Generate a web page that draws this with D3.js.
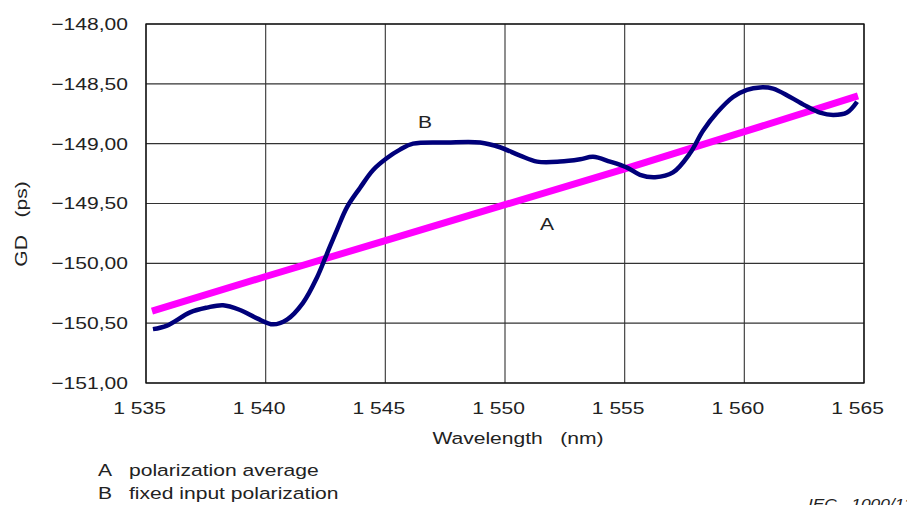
<!DOCTYPE html>
<html>
<head>
<meta charset="utf-8">
<script src="https://d3js.org/d3.v7.min.js"></script>
<style>
  body { margin: 0; background: #fff; }
  text { font-family: "Liberation Sans", Arial, sans-serif; fill: #222; }
</style>
</head>
<body>
<div id="chart"></div>
<script>
// tick values and their printed labels
var xTicks = [1535, 1540, 1545, 1550, 1555, 1560, 1565];
var xTickLabels = ["1 535", "1 540", "1 545", "1 550", "1 555", "1 560", "1 565"];
var yTicks = [-148, -148.5, -149, -149.5, -150, -150.5, -151];
var yTickLabels = ["\u2212148,00", "\u2212148,50", "\u2212149,00", "\u2212149,50", "\u2212150,00", "\u2212150,50", "\u2212151,00"];

// A: polarization average
var aWavelength = [1535.25, 1540, 1545, 1550, 1555, 1560, 1564.75];
var aGD = [-150.40, -150.11, -149.81, -149.51, -149.21, -148.90, -148.60];

// B: fixed input polarization
var bWavelength = [1535.29, 1535.88, 1536.84, 1537.55, 1538.22, 1538.93, 1539.64, 1540.31, 1540.89, 1541.56,
  1542.14, 1542.56, 1542.98, 1543.40, 1543.94, 1544.49, 1545.07, 1545.61, 1546.16, 1547.58,
  1548.96, 1549.79, 1550.63, 1551.34, 1552.30, 1553.14, 1553.68, 1554.39, 1555.10, 1555.64,
  1556.27, 1557.02, 1557.73, 1558.28, 1558.86, 1559.53, 1560.11, 1560.66, 1561.20, 1561.91,
  1562.62, 1563.16, 1563.71, 1564.29, 1564.71];
var bGD = [-150.55, -150.52, -150.41, -150.37, -150.35, -150.39, -150.46, -150.51, -150.47, -150.33,
  -150.12, -149.92, -149.72, -149.53, -149.37, -149.22, -149.12, -149.05, -149.00, -148.99,
  -148.99, -149.03, -149.10, -149.15, -149.15, -149.13, -149.11, -149.15, -149.20, -149.26,
  -149.28, -149.24, -149.08, -148.89, -148.74, -148.61, -148.55, -148.53, -148.54, -148.61,
  -148.69, -148.74, -148.76, -148.74, -148.65];

var legendKeys = ["A", "B"];
var legendTexts = ["polarization average", "fixed input polarization"];

var width = 907, height = 505;
var plot = { left: 146, right: 864, top: 24, bottom: 383 };
var fontSize = 17, wide = 1.24; // the source font is drawn wider than Arial

var svg = d3.select("#chart").append("svg")
  .attr("width", width)
  .attr("height", height);

// widen a text around its anchor point
function stretch(sel) {
  sel.each(function() {
    var t = d3.select(this);
    var ax = +t.attr("x") || 0;
    var old = t.attr("transform") || "";
    t.attr("transform", old + " translate(" + ax + ",0) scale(" + wide + ",1) translate(" + (-ax) + ",0)");
  });
}

var x = d3.scaleLinear().domain([1535, 1565]).range([plot.left, plot.right]);
var y = d3.scaleLinear().domain([-151, -148]).range([plot.bottom, plot.top]);

// grid
svg.append("g").selectAll("line").data(xTicks).join("line")
  .attr("x1", d => x(d)).attr("x2", d => x(d))
  .attr("y1", plot.top).attr("y2", plot.bottom)
  .attr("stroke", "#444").attr("stroke-width", 1.2);
svg.append("g").selectAll("line").data(yTicks).join("line")
  .attr("x1", plot.left).attr("x2", plot.right)
  .attr("y1", d => y(d)).attr("y2", d => y(d))
  .attr("stroke", "#333").attr("stroke-width", 1.2);

svg.append("rect")
  .attr("x", plot.left).attr("y", plot.top)
  .attr("width", plot.right - plot.left).attr("height", plot.bottom - plot.top)
  .attr("fill", "none").attr("stroke", "#111").attr("stroke-width", 1.3);

// axes (labels only)
var xAxis = svg.append("g")
  .attr("transform", "translate(-7," + plot.bottom + ")")
  .call(d3.axisBottom(x).tickValues(xTicks).tickSize(0).tickPadding(19)
    .tickFormat((d, i) => xTickLabels[i]));
var yAxis = svg.append("g")
  .attr("transform", "translate(" + plot.left + ",0)")
  .call(d3.axisLeft(y).tickValues(yTicks).tickSize(0).tickPadding(18)
    .tickFormat((d, i) => yTickLabels[i]));
[xAxis, yAxis].forEach(function(g) {
  g.select(".domain").remove();
  g.selectAll("text").attr("font-size", fontSize)
    .attr("font-family", "Liberation Sans, Arial, sans-serif").attr("fill", "#222")
    .call(stretch);
});

// series
var line = d3.line()
  .x(d => x(d[0]))
  .y(d => y(d[1]));

svg.append("path")
  .datum(d3.zip(aWavelength, aGD))
  .attr("d", line)
  .attr("fill", "none")
  .attr("stroke", "#ff00ff")
  .attr("stroke-width", 7);

svg.append("path")
  .datum(d3.zip(bWavelength, bGD))
  .attr("d", line.curve(d3.curveCatmullRom))
  .attr("fill", "none")
  .attr("stroke", "#00007a")
  .attr("stroke-width", 4.5);

// curve labels
svg.append("text").attr("x", x(1546.66)).attr("y", y(-148.87))
  .attr("text-anchor", "middle").attr("font-size", fontSize).text("B").call(stretch);
svg.append("text").attr("x", x(1551.76)).attr("y", y(-149.72))
  .attr("text-anchor", "middle").attr("font-size", fontSize).text("A").call(stretch);

// axis titles
svg.append("text")
  .attr("transform", "translate(27,224) rotate(-90)")
  .attr("text-anchor", "middle").attr("font-size", fontSize)
  .attr("xml:space", "preserve")
  .text("GD   (ps)").call(stretch);
svg.append("text")
  .attr("x", 518).attr("y", 444)
  .attr("text-anchor", "middle").attr("font-size", fontSize)
  .attr("xml:space", "preserve")
  .text("Wavelength   (nm)").call(stretch);

// key
var key = svg.append("g").selectAll("g").data(legendKeys).join("g")
  .attr("transform", (d, i) => "translate(0," + (476 + i * 23) + ")");
key.append("text").attr("x", 98).attr("font-size", fontSize).text(d => d).call(stretch);
key.append("text").attr("x", 129).attr("font-size", fontSize).text((d, i) => legendTexts[i]).call(stretch);

svg.append("text")
  .attr("x", 808).attr("y", 509)
  .attr("font-size", 14).attr("font-style", "italic").attr("fill", "#444")
  .attr("xml:space", "preserve")
  .text("IEC   1000/13").call(stretch);
</script>
</body>
</html>
